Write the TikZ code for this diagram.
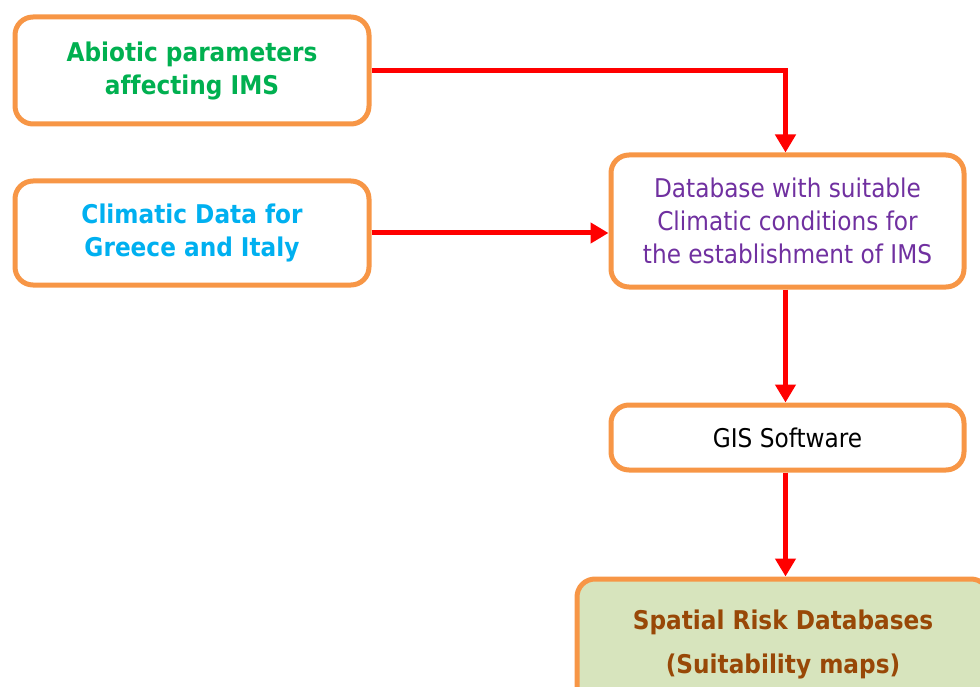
\documentclass[tikz,border=0pt]{standalone}
\usepackage{fontspec}
\setmainfont{DejaVu Sans}[FakeStretch=0.9, Ligatures=NoCommon]
\usetikzlibrary{arrows.meta,positioning}

\definecolor{boxorange}{HTML}{F79646}
\definecolor{txtgreen}{HTML}{00B050}
\definecolor{txtcyan}{HTML}{00B0F0}
\definecolor{txtpurple}{HTML}{7030A0}
\definecolor{txtbrown}{HTML}{984807}
\definecolor{mapfill}{HTML}{D7E4BD}

\begin{document}
\begin{tikzpicture}[x=1pt, y=-1pt,
		block/.style={draw=boxorange, line width=5pt, rounded corners=18pt, fill=white,
			minimum width=354pt, align=center, font=\fontsize{25.8}{33}\selectfont},
		link/.style={draw=red, line width=5pt, -{Triangle[length=18pt, width=20pt]}}
	]
		\useasboundingbox (0,0) rectangle (980,687);

		\node[block, minimum height=107pt, text=txtgreen, font=\fontsize{25.8}{33}\selectfont\bfseries] (abio) at (192,70.5) {Abiotic parameters\\affecting IMS};
		\node[block, minimum height=104pt, text=txtcyan, font=\fontsize{25.8}{33}\selectfont\bfseries] (clim) at (192,233) {Climatic Data for\\Greece and Italy};
		\node[block, minimum width=353pt, minimum height=132pt, text=txtpurple] (db) at (787.5,221) {Database with suitable\\Climatic conditions for\\the establishment of IMS};
		\node[block, minimum width=353pt, minimum height=65pt] (gis) at (787.5,437.5) {GIS Software};
		\begin{scope}
			\clip (0,0) rectangle (980,687);
			\node[block, minimum width=412pt, minimum height=130pt, fill=mapfill, text=txtbrown,
				font=\fontsize{25.8}{44}\selectfont\bfseries] (risk) at (783,644) {Spatial Risk Databases\\(Suitability maps)};
		\end{scope}

		\draw[link] (abio.east) -| ([xshift=-2pt]db.north);
		\draw[link] (clim.east) -- (clim.east -| db.west);
		\draw[link] ([xshift=-2pt]db.south) -- ([xshift=-2pt]gis.north);
		\draw[link] ([xshift=-2pt]gis.south) -- ([xshift=-2pt]gis.south |- risk.north);
	\end{tikzpicture}
\end{document}
